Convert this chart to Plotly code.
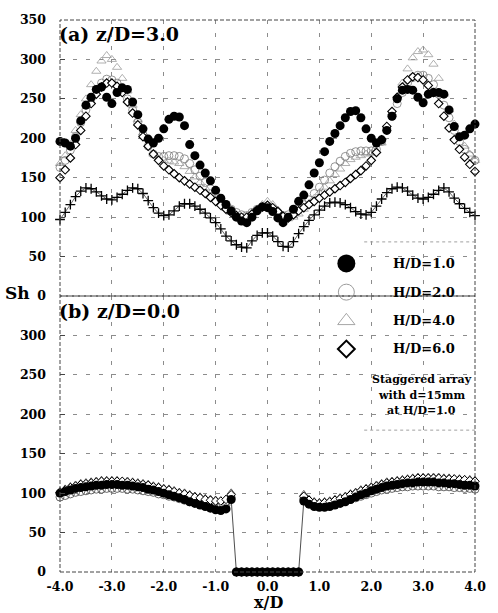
import plotly.graph_objects as go

# ---------------------------------------------------------------- data
# measurement stations along the test section, x/D
x_d = [-4.0, -3.9, -3.8, -3.7, -3.6, -3.5, -3.4, -3.3, -3.2, -3.1,
       -3.0, -2.9, -2.8, -2.7, -2.6, -2.5, -2.4, -2.3, -2.2, -2.1,
       -2.0, -1.9, -1.8, -1.7, -1.6, -1.5, -1.4, -1.3, -1.2, -1.1,
       -1.0, -0.9, -0.8, -0.7, -0.6, -0.5, -0.4, -0.3, -0.2, -0.1,
       0.0, 0.1, 0.2, 0.3, 0.4, 0.5, 0.6, 0.7, 0.8, 0.9,
       1.0, 1.1, 1.2, 1.3, 1.4, 1.5, 1.6, 1.7, 1.8, 1.9,
       2.0, 2.1, 2.2, 2.3, 2.4, 2.5, 2.6, 2.7, 2.8, 2.9,
       3.0, 3.1, 3.2, 3.3, 3.4, 3.5, 3.6, 3.7, 3.8, 3.9,
       4.0]

# (a) z/D = 3.0 -- Sherwood number
sh_a_hd1 = [196, 194, 190, 200, 222, 242, 252, 262, 265, 252,
            244, 258, 264, 262, 246, 230, 212, 199, 194, 200,
            212, 224, 228, 227, 216, 192, 178, 166, 156, 146,
            134, 124, 116, 108, 100, 95, 93, 100, 108, 113,
            112, 107, 99, 93, 100, 110, 120, 128, 141, 156,
            169, 183, 196, 206, 216, 226, 234, 235, 226, 212,
            200, 194, 198, 210, 228, 250, 261, 262, 261, 252,
            245, 256, 258, 258, 256, 236, 215, 202, 204, 212,
            218]
sh_a_hd2 = [163, 172, 185, 202, 220, 236, 250, 262, 270, 275,
            274, 270, 262, 250, 236, 220, 204, 190, 180, 177,
            177, 178, 178, 177, 174, 168, 160, 152, 144, 136,
            128, 122, 116, 110, 106, 103, 102, 106, 110, 113,
            114, 111, 106, 102, 103, 106, 110, 116, 122, 130,
            138, 147, 156, 164, 171, 177, 181, 183, 184, 184,
            184, 186, 196, 212, 228, 244, 258, 270, 277, 280,
            280, 276, 268, 256, 242, 226, 210, 196, 186, 178,
            172]
sh_a_hd4 = [168, 178, 192, 210, 230, 250, 268, 285, 298, 305,
            300, 290, 276, 260, 242, 224, 207, 192, 180, 174,
            172, 171, 170, 168, 164, 158, 151, 144, 137, 130,
            123, 117, 111, 106, 102, 99, 99, 104, 110, 116,
            120, 116, 109, 102, 98, 100, 104, 110, 117, 124,
            131, 138, 146, 154, 161, 168, 173, 176, 178, 180,
            181, 184, 194, 212, 232, 252, 270, 288, 302, 310,
            312, 306, 294, 276, 256, 236, 218, 202, 190, 180,
            172]
sh_a_hd6 = [150, 160, 175, 192, 210, 228, 244, 256, 265, 270,
            270, 266, 258, 246, 232, 217, 202, 190, 180, 172,
            165, 160, 155, 150, 146, 142, 138, 134, 130, 125,
            120, 115, 110, 106, 102, 100, 100, 104, 109, 113,
            115, 112, 107, 101, 99, 103, 108, 112, 116, 120,
            124, 128, 132, 136, 140, 144, 149, 154, 159, 165,
            172, 182, 198, 215, 234, 252, 265, 274, 278, 277,
            274, 267, 258, 244, 228, 213, 198, 186, 176, 167,
            158]
sh_a_staggered = [97, 106, 116, 126, 133, 137, 136, 132, 127, 123,
                  122, 125, 129, 134, 137, 136, 130, 121, 112, 105,
                  102, 103, 108, 114, 117, 117, 114, 110, 105, 99,
                  93, 85, 76, 70, 65, 62, 61, 70, 77, 80,
                  80, 76, 69, 63, 62, 69, 79, 88, 96, 103,
                  109, 114, 118, 119, 118, 116, 112, 107, 104, 103,
                  106, 114, 123, 131, 136, 138, 137, 133, 128, 124,
                  123, 125, 129, 134, 137, 132, 124, 117, 111, 106,
                  102]

# (b) z/D = 0.0 -- Sherwood number (zero under the cylinder)
sh_b_hd1 = [100, 102, 104, 106, 107, 108, 109, 110, 110, 111,
            111, 111, 110, 110, 109, 108, 107, 105, 104, 102,
            100, 98, 96, 94, 92, 89, 87, 85, 83, 81,
            79, 78, 80, 92, 0, 0, 0, 0, 0, 0,
            0, 0, 0, 0, 0, 0, 0, 90, 86, 83,
            82, 82, 83, 85, 87, 89, 92, 95, 98, 100,
            103, 105, 107, 109, 110, 111, 112, 113, 113, 114,
            114, 114, 114, 113, 113, 112, 112, 111, 110, 110,
            109]
sh_b_hd2 = [95, 97, 99, 101, 102, 103, 104, 105, 105, 106,
            106, 106, 106, 105, 105, 104, 103, 102, 101, 99,
            98, 96, 95, 93, 91, 89, 88, 86, 85, 84,
            83, 83, 85, 94, 0, 0, 0, 0, 0, 0,
            0, 0, 0, 0, 0, 0, 0, 93, 88, 85,
            84, 84, 85, 86, 88, 90, 92, 94, 96, 98,
            100, 102, 104, 105, 106, 107, 108, 108, 109, 109,
            109, 109, 109, 108, 108, 108, 107, 107, 106, 106,
            105]
sh_b_hd4 = [103, 106, 109, 111, 113, 114, 115, 116, 117, 117,
            117, 117, 116, 116, 115, 114, 113, 112, 110, 109,
            107, 106, 104, 102, 101, 99, 97, 96, 94, 93,
            92, 91, 93, 101, 0, 0, 0, 0, 0, 0,
            0, 0, 0, 0, 0, 0, 0, 99, 93, 90,
            89, 90, 91, 93, 95, 97, 100, 102, 105, 107,
            109, 111, 113, 115, 116, 117, 118, 119, 120, 121,
            121, 121, 121, 121, 120, 120, 119, 119, 118, 118,
            117]
sh_b_hd6 = [101, 104, 107, 109, 111, 112, 113, 114, 115, 115,
            115, 115, 115, 114, 113, 112, 111, 110, 108, 107,
            105, 104, 102, 100, 99, 97, 95, 94, 92, 91,
            90, 90, 92, 98, 0, 0, 0, 0, 0, 0,
            0, 0, 0, 0, 0, 0, 0, 96, 91, 88,
            87, 88, 89, 91, 93, 95, 98, 100, 103, 105,
            107, 109, 111, 113, 114, 115, 116, 117, 118, 119,
            119, 119, 119, 119, 118, 118, 118, 117, 117, 116,
            115]

x_ticks = [-4, -3, -2, -1, 0, 1, 2, 3, 4]
x_tick_text = ["-4.0", "-3.0", "-2.0", "-1.0", "0.0", "1.0", "2.0", "3.0", "4.0"]
y_ticks_a = [0, 50, 100, 150, 200, 250, 300, 350]
y_ticks_b = [0, 50, 100, 150, 200, 250, 300]

legend_labels = ["H/D=1.0", "H/D=2.0", "H/D=4.0", "H/D=6.0"]
note_lines = ["Staggered array", "with d=15mm", "at H/D=1.0"]

# ---------------------------------------------------------------- style
SERIF = "DejaVu Serif"
INK = "black"
GRID = "#8c8c8c"
GREY_MID = "#7a7a7a"
GREY_LIGHT = "#9c9c9c"

fig = go.Figure()


def add(x, y, xa, ya, **kw):
    fig.add_trace(go.Scatter(x=x, y=y, xaxis=xa, yaxis=ya, showlegend=False,
                             hoverinfo="skip", cliponaxis=False, **kw))


# panel (a)
add(x_d, sh_a_staggered, "x", "y", mode="lines+markers",
    line=dict(color=INK, width=0.6),
    marker=dict(symbol="cross-thin-open", size=7, color=INK, line=dict(color=INK, width=1.3)))
add(x_d, sh_a_hd4, "x", "y", mode="markers",
    marker=dict(symbol="triangle-up-open", size=8, color=GREY_LIGHT,
                line=dict(color=GREY_LIGHT, width=0.8)))
add(x_d, sh_a_hd2, "x", "y", mode="markers",
    marker=dict(symbol="circle-open", size=8, color=GREY_MID,
                line=dict(color=GREY_MID, width=0.8)))
add(x_d, sh_a_hd6, "x", "y", mode="markers",
    marker=dict(symbol="diamond", size=6.5, color="white", line=dict(color=INK, width=1.1)))
add(x_d, sh_a_hd1, "x", "y", mode="markers",
    marker=dict(symbol="circle", size=9, color=INK, line=dict(width=0)))

# panel (b)
add(x_d, sh_b_hd2, "x2", "y2", mode="markers",
    marker=dict(symbol="circle-open", size=8, color="#555555",
                line=dict(color="#555555", width=0.9)))
add(x_d, sh_b_hd4, "x2", "y2", mode="markers",
    marker=dict(symbol="triangle-up", size=7, color="white", line=dict(color="#333333", width=0.8)))
add(x_d, sh_b_hd6, "x2", "y2", mode="markers",
    marker=dict(symbol="diamond", size=6.5, color="white", line=dict(color=INK, width=1.0)))
add(x_d, sh_b_hd1, "x2", "y2", mode="lines+markers",
    line=dict(color=INK, width=0.7),
    marker=dict(symbol="circle", size=9, color=INK, line=dict(width=0)))

# legend keys drawn on a hidden helper axis spanning the whole plot area
key_x = 0.69
key_y = [0.559, 0.507, 0.455, 0.404]
key_styles = [
    dict(symbol="circle", size=18, color=INK, line=dict(width=0)),
    dict(symbol="circle-open", size=16, color=GREY_LIGHT, line=dict(color=GREY_LIGHT, width=1)),
    dict(symbol="triangle-up-open", size=15, color=GREY_LIGHT, line=dict(color=GREY_LIGHT, width=0.9)),
    dict(symbol="diamond-open", size=13, color=INK, line=dict(color=INK, width=2)),
]
for ky, st in zip(key_y, key_styles):
    add([key_x], [ky], "x3", "y3", mode="markers", marker=st)

# ---------------------------------------------------------------- annotations
ann = []
bold = dict(family=SERIF, color=INK, weight="bold")
for ky, lab in zip(key_y, legend_labels):
    ann.append(dict(x=0.798, y=ky, xref="paper", yref="paper", text=lab,
                    showarrow=False, xanchor="left", yanchor="middle",
                    font=dict(size=13, **bold)))
for i, line in enumerate(note_lines):
    ann.append(dict(x=0.872, y=0.349 - i * 0.0285, xref="paper", yref="paper", text=line,
                    showarrow=False, xanchor="center", yanchor="middle",
                    font=dict(size=11, **bold)))
ann.append(dict(x=-0.008, y=0.975, xref="paper", yref="paper", text="(a) z/D=3.0",
                showarrow=False, xanchor="left", yanchor="middle",
                font=dict(size=19, **bold)))
ann.append(dict(x=-0.008, y=0.473, xref="paper", yref="paper", text="(b) z/D=0.0",
                showarrow=False, xanchor="left", yanchor="middle",
                font=dict(size=19, **bold)))
ann.append(dict(x=-0.103, y=0.505, xref="paper", yref="paper", text="Sh",
                showarrow=False, xanchor="center", yanchor="middle",
                font=dict(size=17, **bold)))
ann.append(dict(x=0.502, y=-0.0555, xref="paper", yref="paper", text="x/D",
                showarrow=False, xanchor="center", yanchor="middle",
                font=dict(size=16, **bold)))

# ---------------------------------------------------------------- frames
frame = dict(color="#444444", width=1, dash="4px,2px")
shapes = [
    dict(type="rect", xref="paper", yref="paper", x0=0, x1=1, y0=0.5, y1=1, line=frame),
    dict(type="rect", xref="paper", yref="paper", x0=0, x1=1, y0=0, y1=0.5, line=frame),
    dict(type="line", xref="paper", yref="paper", x0=0.733, x1=1, y0=0.598, y1=0.598,
         line=dict(color="#a0a0a0", width=1, dash="3px,3px")),
    dict(type="line", xref="paper", yref="paper", x0=0.733, x1=1, y0=0.257, y1=0.257,
         line=dict(color="#a0a0a0", width=1, dash="3px,3px")),
]

tickfont = dict(family=SERIF, size=12.5, color=INK, weight="bold")
xcommon = dict(range=[-4, 4], tickvals=x_ticks, showgrid=True, gridcolor=GRID,
               griddash="4px,9px", gridwidth=1, zeroline=False, showline=False, ticks="")
ycommon = dict(range=[0, 350], showgrid=True, gridcolor=GRID, griddash="4px,9px",
               gridwidth=1, zeroline=False, showline=False, ticks="inside", ticklen=5,
               tickcolor="#444444", tickfont=tickfont, ticklabelstandoff=13)

fig.update_layout(
    width=498, height=613,
    margin=dict(l=60, r=18, t=12, b=41),
    paper_bgcolor="white", plot_bgcolor="rgba(0,0,0,0)",
    xaxis=dict(domain=[0, 1], anchor="y", showticklabels=False, **xcommon),
    xaxis2=dict(domain=[0, 1], anchor="y2", showticklabels=True, ticktext=x_tick_text,
                tickfont=tickfont, ticklabelstandoff=5, **xcommon),
    yaxis=dict(domain=[0.5, 1], anchor="x", tickvals=y_ticks_a,
               ticktext=[str(v) for v in y_ticks_a], **ycommon),
    yaxis2=dict(domain=[0, 0.5], anchor="x2", tickvals=y_ticks_b,
                ticktext=[str(v) for v in y_ticks_b], **ycommon),
    xaxis3=dict(domain=[0, 1], anchor="y3", range=[0, 1], visible=False),
    yaxis3=dict(domain=[0, 1], anchor="x3", range=[0, 1], visible=False),
    annotations=ann,
    shapes=shapes,
    showlegend=False,
)

fig.write_html("out.html")
